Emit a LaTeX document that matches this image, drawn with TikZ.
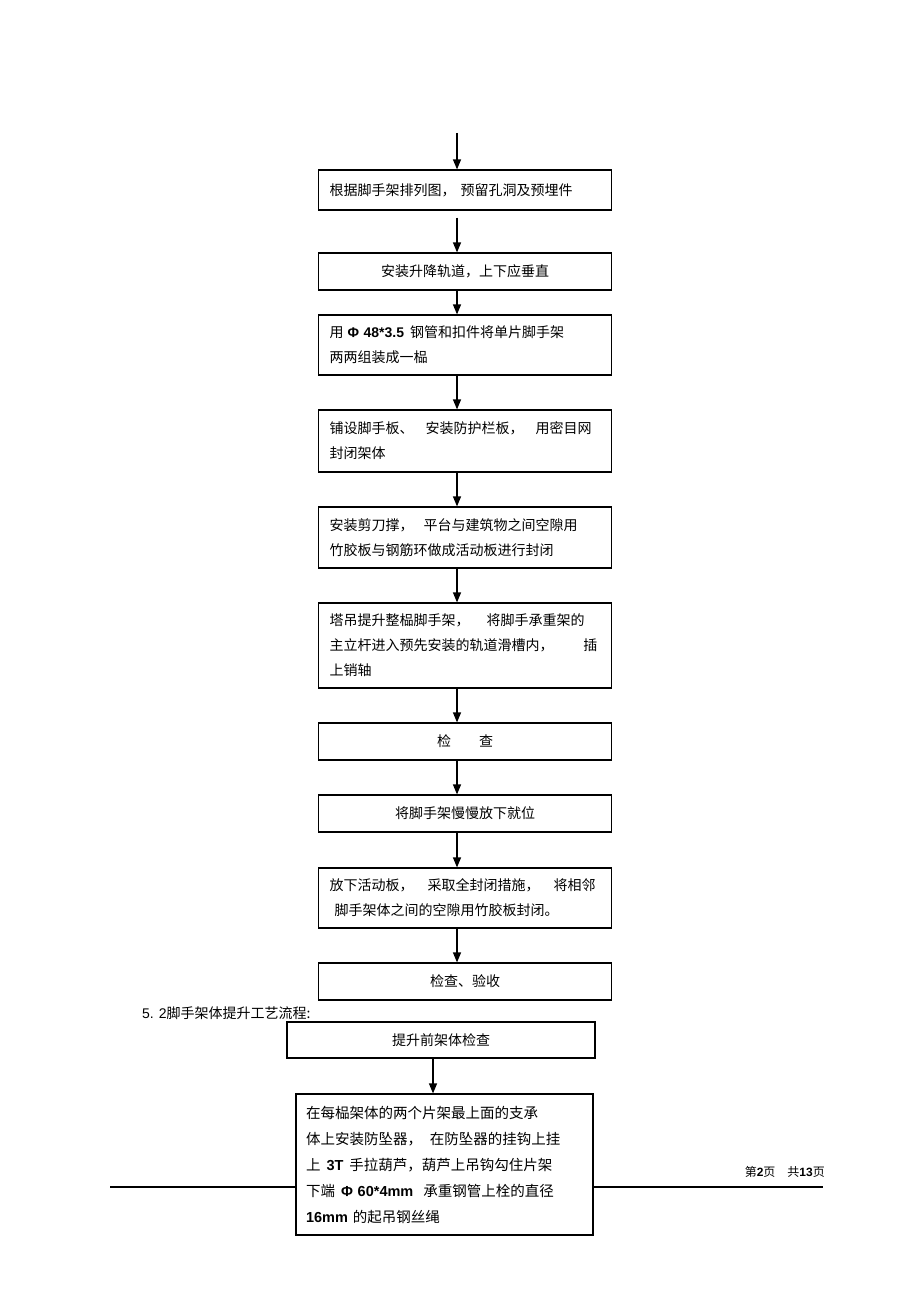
\documentclass[tikz,border=0pt]{standalone}
\usepackage{fontspec}
\setmainfont{Liberation Sans}
\newfontfamily\cjk{Noto Sans CJK SC}
\newfontfamily\lat{Liberation Sans}
\newcommand{\westtxt}[1]{{\lat\bfseries #1}}
\usetikzlibrary{arrows.meta, positioning}

\tikzset{
    stepbox/.style={draw, line width=1.2pt, fill=white, inner xsep=11pt, inner ysep=0pt,
        text width=271pt, minimum height=37pt, font=\cjk\fontsize{14}{25}\selectfont},
    leftbox/.style={stepbox, align=left},
    midbox/.style={stepbox, align=center},
    flow/.style={-{Triangle[width=8pt,length=10pt]}, line width=1.2pt},
}

\begin{document}
\begin{tikzpicture}[x=1pt, y=-1pt]
        \useasboundingbox (0,0) rectangle (920,1303);

        % Arrow lines
        \coordinate (ax) at (457,133);
        \coordinate (bx) at (433,0);

        % Assembly flow
        \node[leftbox, minimum height=40pt] (b1) at (465,190) {根据脚手架排列图，\hspace{5pt}预留孔洞及预埋件};
        \node[midbox] (b2) at (465,271.5) {安装升降轨道，上下应垂直};
        \node[leftbox, minimum height=60pt] (b3) at (465,345)
            {用\hspace{4pt}\westtxt{Φ 48*3.5}\hspace{6pt}钢管和扣件将单片脚手架\\两两组装成一榀};
        \node[leftbox, minimum height=62pt] (b4) at (465,441)
            {铺设脚手板、\hspace{12pt}安装防护栏板，\hspace{12pt}用密目网\\封闭架体};
        \node[leftbox, minimum height=61pt] (b5) at (465,537.5)
            {安装剪刀撑，\hspace{10pt}平台与建筑物之间空隙用\\竹胶板与钢筋环做成活动板进行封闭};
        \node[leftbox, minimum height=85pt] (b6) at (465,645.5)
            {塔吊提升整榀脚手架，\hspace{17pt}将脚手承重架的\\主立杆进入预先安装的轨道滑槽内，\hspace{30pt}插\\上销轴};
        \node[midbox] (b7) at (465,741.5) {检\hspace{28pt}查};
        \node[midbox] (b8) at (465,813.5) {将脚手架慢慢放下就位};
        \node[leftbox, minimum height=60pt] (b9) at (465,898)
            {放下活动板，\hspace{14pt}采取全封闭措施，\hspace{14pt}将相邻\\\hspace{5pt}脚手架体之间的空隙用竹胶板封闭。};
        \node[midbox] (b10) at (465,981.5) {检查、验收};

        \draw[flow] (ax) -- (b1.north -| ax);
        \draw[flow, shorten <=7pt] (b1.south -| ax) -- (b2.north -| ax);
        \draw[flow] (b2.south -| ax) -- (b3.north -| ax);
        \draw[flow] (b3.south -| ax) -- (b4.north -| ax);
        \draw[flow] (b4.south -| ax) -- (b5.north -| ax);
        \draw[flow] (b5.south -| ax) -- (b6.north -| ax);
        \draw[flow] (b6.south -| ax) -- (b7.north -| ax);
        \draw[flow] (b7.south -| ax) -- (b8.north -| ax);
        \draw[flow] (b8.south -| ax) -- (b9.north -| ax);
        \draw[flow] (b9.south -| ax) -- (b10.north -| ax);

        % Section title
        \node[anchor=west, inner sep=0pt, font=\cjk\fontsize{14}{16}\selectfont] (title) at (142,1013)
            {\westtxt{\mdseries 5.\hspace{5pt}2}脚手架体提升工艺流程:};

        % Page footer
        \coordinate (ruleL) at (110,1187);
        \coordinate (ruleR) at (823,1187);
        \draw[line width=1.5pt] (ruleL) -- (ruleR);
        \node[anchor=east, inner sep=0pt, font=\cjk\fontsize{12}{14}\selectfont] (page) at (825,1172)
            {第\westtxt{2}页\hspace{12pt}共\westtxt{13}页};

        % Lifting flow
        \node[midbox, text width=286pt, minimum height=36pt] (l1) at (441,1040) {提升前架体检查};
        \node[leftbox, text width=277pt, inner xsep=10pt, minimum height=141pt,
            font=\cjk\fontsize{14.5}{26}\selectfont] (l2) at (444.5,1164.5)
            {在每榀架体的两个片架最上面的支承\\体上安装防坠器，\hspace{8pt}在防坠器的挂钩上挂\\上\hspace{6pt}\westtxt{3T}\hspace{6pt}手拉葫芦，葫芦上吊钩勾住片架\\下端\hspace{6pt}\westtxt{Φ 60*4mm}\hspace{10pt}承重钢管上栓的直径\\\westtxt{16mm}\hspace{5pt}的起吊钢丝绳};

        \draw[flow] (l1.south -| bx) -- (l2.north -| bx);
    \end{tikzpicture}
\end{document}
